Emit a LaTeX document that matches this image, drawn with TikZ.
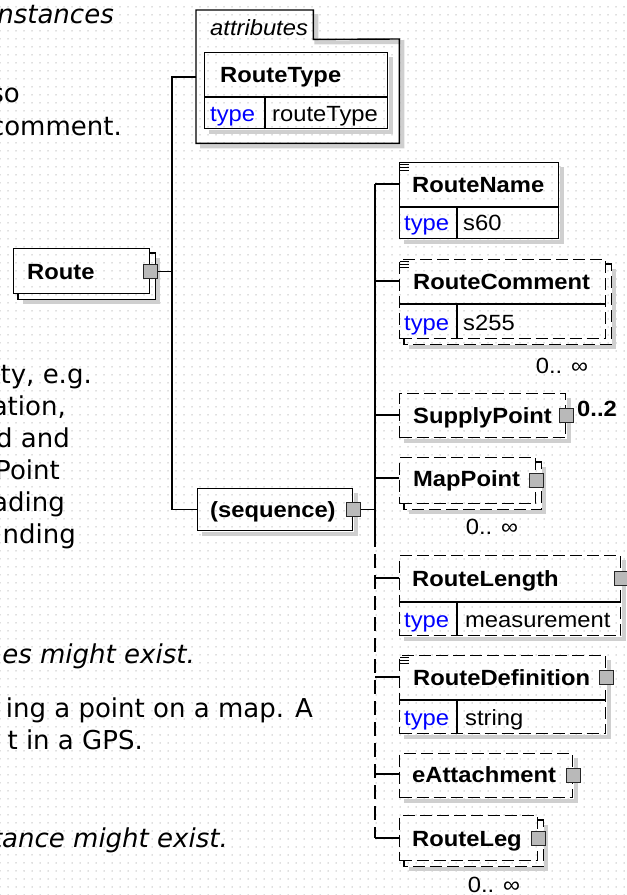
\documentclass[tikz,border=0pt]{standalone}
\usepackage{fontspec}
\newfontfamily\xsdfont{Liberation Sans}[FakeStretch=1.08]
\newfontfamily\docfont{DejaVu Sans}
\usetikzlibrary{patterns.meta}

% grey band along right and bottom edge of a box (#1 = extra offset for stacked boxes)
\newcommand\boxshadow[2][0]{%
  \draw[shadowline] ([shift={(#1+5,-#1-3)}]#2.south west) -- ([shift={(#1+3,-#1-3)}]#2.south east)
    -- ([shift={(#1+3,-#1-5)}]#2.north east);}
% second frame behind a box with several occurrences
\newcommand\stackframe[2][]{%
  \draw[frame,#1] ([yshift=-5]#2.north east) -- ++(5,0) |- ([shift={(5,-5)}]#2.south west) -- ++(0,5);}
% documentation mark at the top left corner
\newcommand\docicon[1]{%
  \foreach \k in {0,3,6} \draw[line width=1pt] ([shift={(1,-2-\k)}]#1.north west) -- ++(9,0);}

\begin{document}
\begin{tikzpicture}[
  x=1pt, y=1pt,
  frame/.style={draw, line width=1.4pt},
  box/.style={frame, inner sep=0pt, anchor=north west},
  opt/.style={box, dash pattern=on 12pt off 5pt},
  optline/.style={frame, dash pattern=on 12pt off 5pt},
  shadowline/.style={line width=4pt, gray!38},
  expand/.style={draw=black!85, fill=gray!55, line width=1pt, minimum size=14pt, inner sep=0pt},
  xsd/.style={inner sep=0pt, text height=16pt, text depth=0pt, anchor=west},
  ename/.style={xsd, font=\xsdfont\bfseries\fontsize{22}{24}\selectfont},
  tkey/.style={xsd, font=\xsdfont\fontsize{22}{24}\selectfont, text=blue},
  tval/.style={xsd, font=\xsdfont\fontsize{22}{24}\selectfont},
  card/.style={inner sep=0pt, font=\xsdfont\fontsize{22}{24}\selectfont},
  conn/.style={line width=1.3pt},
  doc/.style={inner sep=0pt, anchor=base east, font=\docfont\fontsize{26}{32}\selectfont},
  docit/.style={doc, font=\docfont\itshape\fontsize{26}{32}\selectfont},
]

% --- canvas with dot grid ---
\fill[white] (0,0) rectangle (627,-895);
\fill[pattern={Dots[distance=8pt,radius=0.75pt]}, pattern color=black!25] (0,0) rectangle (627,-895);
\useasboundingbox (0,0) rectangle (627,-895);
\clip (0,0) rectangle (627,-895);

% --- documentation text, cut at the left border ---
\node[docit] (d1)  at (114,-23)  {nstances};
\node[doc]   (d2)  at (20,-102)  {so};
\node[doc]   (d3)  at (122,-135) {comment.};
\node[doc]   (d4)  at (92,-383)  {ty, e.g.};
\node[doc]   (d5)  at (66,-415)  {ation,};
\node[doc]   (d6)  at (70,-447)  {d and};
\node[doc]   (d7)  at (60,-479)  {Point};
\node[doc]   (d8)  at (65,-511)  {ading};
\node[doc]   (d9)  at (76,-543)  {nding};
\node[docit] (d10) at (195,-663) {es might exist.};
\node[doc]   (d11) at (313,-717) {ing a point on a map. A};
\node[doc]   (d12) at (143,-749) {t in a GPS.};
\node[docit] (d13) at (228,-847) {tance might exist.};

% --- attributes folder ---
\node[inner sep=0pt, minimum width=117, minimum height=29, anchor=north west] (attrtab) at (196,-10) {};
\node[inner sep=0pt, minimum width=203, minimum height=104, anchor=north west] (attrbox) at (196,-39) {};
\node[xsd, font=\xsdfont\itshape\fontsize{22}{24}\selectfont] (attrlbl) at (210,-27) {attributes};
\draw[shadowline] ([shift={(3,-4)}]attrtab.north east) -- ([shift={(3,-3)}]attrtab.south east)
  -- ([shift={(3,-3)}]attrbox.north east) -- ([shift={(3,-3)}]attrbox.south east)
  -- ([shift={(4,-3)}]attrbox.south west);
\draw[frame] (attrbox.south west) -- (attrtab.north west) -- (attrtab.north east)
  -- (attrtab.south east) -- (attrbox.north east) -- (attrbox.south east) -- cycle;

\node[box, minimum width=183, minimum height=76] (rtype) at (204,-52) {};
\boxshadow{rtype}
\draw[frame] ([yshift=-45]rtype.north west) -- ([yshift=-45]rtype.north east);
\draw[frame] ([xshift=61]rtype.south west) -- ([shift={(61,31)}]rtype.south west);
\node[ename] (rtype-n) at (220,-74)  {RouteType};
\node[tkey]  (rtype-k) at (210,-113) {type};
\node[tval]  (rtype-v) at (272,-113) {routeType};

% --- Route and the sequence ---
\node[box, minimum width=136, minimum height=45] (route) at (13,-248) {};
\boxshadow[5]{route}
\stackframe{route}
\node[ename] (route-n) at (27,-271) {Route};
\node[expand] (route-x) at (route.east) {};

\node[box, minimum width=155, minimum height=42] (seq) at (197,-488) {};
\boxshadow{seq}
\node[ename] (seq-n) at (210,-509) {(sequence)};
\node[expand] (seq-x) at (seq.east) {};

% --- child elements ---
\node[box, minimum width=159, minimum height=76] (rname) at (399,-162) {};
\boxshadow{rname}
\docicon{rname}
\draw[frame] ([yshift=-45]rname.north west) -- ([yshift=-45]rname.north east);
\draw[frame] ([xshift=58]rname.south west) -- ([shift={(58,31)}]rname.south west);
\node[ename] (rname-n) at (412,-184) {RouteName};
\node[tkey]  (rname-k) at (404,-222) {type};
\node[tval]  (rname-v) at (463,-222) {s60};

\node[opt, minimum width=206, minimum height=79] (rcom) at (399,-259) {};
\boxshadow[5]{rcom}
\stackframe[optline]{rcom}
\docicon{rcom}
\draw[frame] ([yshift=-45]rcom.north west) -- ([yshift=-45]rcom.north east);
\draw[frame] ([xshift=58]rcom.south west) -- ([shift={(58,34)}]rcom.south west);
\node[ename] (rcom-n) at (413,-281) {RouteComment};
\node[tkey]  (rcom-k) at (404,-322) {type};
\node[tval]  (rcom-v) at (463,-322) {s255};
\node[card]  (rcom-c) at (562,-366) {0.. ∞};

\node[opt, minimum width=166, minimum height=44] (supply) at (399,-393) {};
\boxshadow{supply}
\node[ename] (supply-n) at (413,-415) {SupplyPoint};
\node[expand] (supply-x) at (supply.east) {};
\node[card, font=\xsdfont\bfseries\fontsize{22}{24}\selectfont] (supply-c) at (597,-409) {0..2};

\node[opt, minimum width=136, minimum height=46] (mappt) at (399,-457) {};
\boxshadow[5]{mappt}
\stackframe[optline]{mappt}
\node[ename] (mappt-n) at (413,-478) {MapPoint};
\node[expand] (mappt-x) at (mappt.east) {};
\node[card]  (mappt-c) at (492,-527) {0.. ∞};

\node[opt, minimum width=221, minimum height=80] (rlen) at (399,-555) {};
\boxshadow{rlen}
\draw[frame] ([yshift=-47]rlen.north west) -- ([yshift=-47]rlen.north east);
\draw[frame] ([xshift=58]rlen.south west) -- ([shift={(58,33)}]rlen.south west);
\node[ename] (rlen-n) at (412,-578) {RouteLength};
\node[tkey]  (rlen-k) at (404,-619) {type};
\node[tval]  (rlen-v) at (465,-619) {measurement};
\node[expand] (rlen-x) at (rlen.east |- rlen-n) {};

\node[opt, minimum width=206, minimum height=78] (rdef) at (399,-655) {};
\boxshadow{rdef}
\docicon{rdef}
\draw[frame] ([yshift=-45]rdef.north west) -- ([yshift=-45]rdef.north east);
\draw[frame] ([xshift=58]rdef.south west) -- ([shift={(58,33)}]rdef.south west);
\node[ename] (rdef-n) at (413,-677) {RouteDefinition};
\node[tkey]  (rdef-k) at (404,-717) {type};
\node[tval]  (rdef-v) at (465,-717) {string};
\node[expand] (rdef-x) at (rdef.east |- rdef-n) {};

\node[opt, minimum width=173, minimum height=44] (eatt) at (399,-753) {};
\boxshadow{eatt}
\node[ename] (eatt-n) at (412,-774) {eAttachment};
\node[expand] (eatt-x) at (eatt.east) {};

\node[opt, minimum width=138, minimum height=45] (rleg) at (399,-815) {};
\boxshadow[5]{rleg}
\stackframe[optline]{rleg}
\node[ename] (rleg-n) at (412,-838) {RouteLeg};
\node[expand] (rleg-x) at (rleg.east) {};
\node[card]  (rleg-c) at (494,-885) {0.. ∞};

% --- connectors ---
\coordinate (tk) at (172,-77);
\coordinate (sk) at (375,-184);
\coordinate (skmid) at (375,-533);
\draw[conn] (attrbox.west |- tk) -- (tk) -- (tk |- seq.west) -- (seq.west);
\draw[conn] (route-x.east) -- (route-x.east -| tk);
\draw[conn] (seq-x.east) -- (seq-x.east -| sk);
\draw[conn] (sk |- rname-n) -- (skmid);
\draw[conn, dash pattern=on 14pt off 7pt] (skmid) -- (sk |- rleg-n);
\foreach \e in {rname,rcom,supply,mappt,rlen,rdef,eatt,rleg}
  \draw[conn] (sk |- \e-n) -- (\e.west |- \e-n);

\end{tikzpicture}
\end{document}
